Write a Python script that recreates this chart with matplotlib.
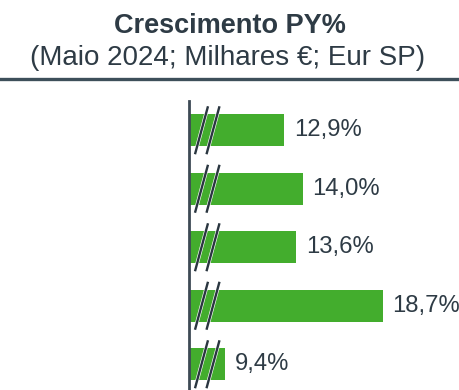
import matplotlib
matplotlib.use("Agg")
import matplotlib.pyplot as plt
import matplotlib.patheffects as pe
from matplotlib.transforms import blended_transform_factory

# growth vs previous year, May 2024
growth = [12.9, 14.0, 13.6, 18.7, 9.4]
labels = ["12,9%", "14,0%", "13,6%", "18,7%", "9,4%"]

plt.rcParams['font.family'] = ['Liberation Sans', 'DejaVu Sans']
txt_col = "#2e3b45"
bar_col = "#43ad2d"

fig = plt.figure(figsize=(4.59, 3.9), dpi=100)

fig.text(0.5, 1 - 33 / 390, "Crescimento PY%", ha="center", va="baseline",
         fontsize=19.5, fontweight="bold", color=txt_col)
fig.text(0.496, 1 - 65 / 390, "(Maio 2024; Milhares €; Eur SP)", ha="center",
         va="baseline", fontsize=20, color=txt_col)
fig.add_artist(plt.Line2D([0, 1], [1 - 78.5 / 390] * 2, color="#3d4f5a", lw=2.4))

ax = fig.add_axes([189 / 459, 0, 1 - 189 / 459, 1 - 101 / 390])
y = list(range(len(growth)))
ax.barh(y, growth, height=0.55, color=bar_col)
ax.set_xlim(7.3, 23.2)
ax.set_ylim(4.44, -0.5)

for yi, v, lab in zip(y, growth, labels):
    ax.annotate(lab, (v, yi), xytext=(7, 0), textcoords="offset points",
                ha="left", va="center", fontsize=17.2, color=txt_col)

# axis break marks across each bar
trans = blended_transform_factory(ax.transAxes, ax.transData)
px = 459 - 189
for yi in y:
    for x0 in (12.5, 24.0):
        ax.plot([(x0 + 6.5) / px, (x0 - 6.5) / px], [yi - 0.41, yi + 0.41],
                transform=trans, color="#2a3640", lw=1.7, clip_on=False,
                solid_capstyle="butt",
                path_effects=[pe.Stroke(linewidth=2.6, foreground="white"), pe.Normal()])

ax.set_xticks([])
ax.set_yticks([])
for s in ["top", "right", "bottom"]:
    ax.spines[s].set_visible(False)
ax.spines["left"].set_color("#3d4a55")
ax.spines["left"].set_linewidth(2)

fig.savefig("out.png", dpi=100)
